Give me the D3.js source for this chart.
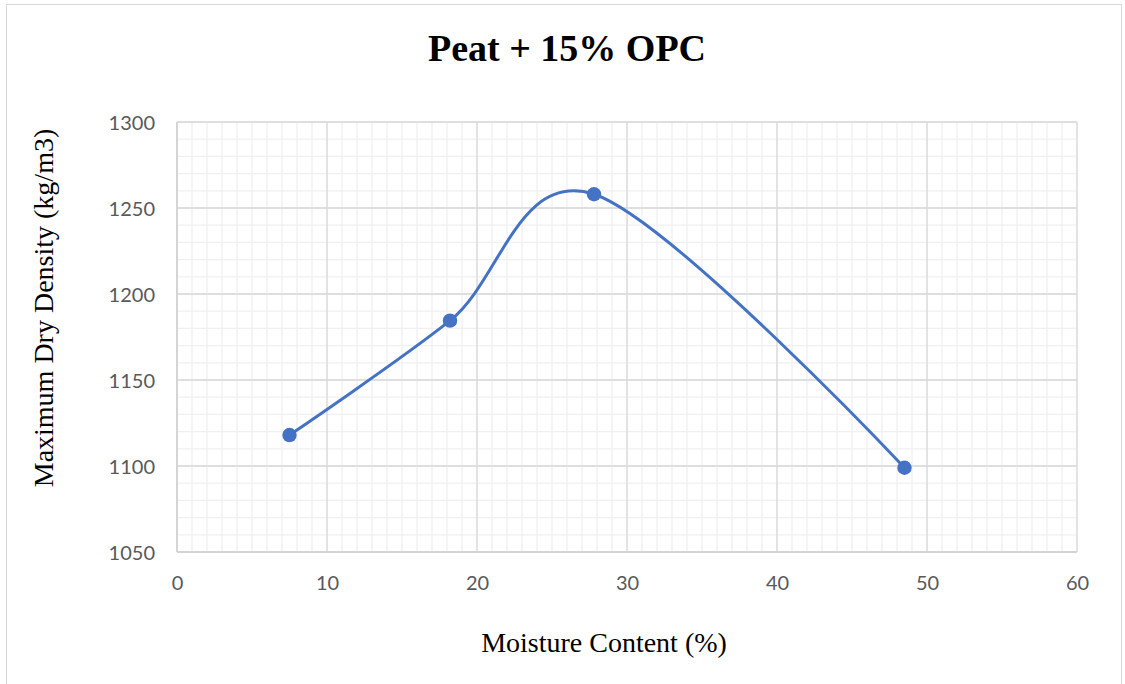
<!DOCTYPE html>
<html>
<head>
<meta charset="utf-8">
<script src="https://cdn.jsdelivr.net/npm/d3@7"></script>
<style>
  html, body { margin: 0; padding: 0; background: #fff; }
  svg { display: block; }
</style>
</head>
<body>
<svg id="chart" width="1125" height="684"></svg>
<script>
// Compaction test: peat stabilised with 15% OPC
const moisture = [7.5, 18.2, 27.8, 48.5];
const dryDensity = [1118, 1184.5, 1258, 1099];
const xTicks = [0, 10, 20, 30, 40, 50, 60];
const yTicks = [1050, 1100, 1150, 1200, 1250, 1300];

const W = 1125, H = 684;
const margin = { left: 177, right: 48, top: 122, bottom: 132 };
const svg = d3.select("#chart");

// outer chart frame
svg.append("rect")
  .attr("x", 6.5).attr("y", 4.5)
  .attr("width", 1115).attr("height", 700)
  .attr("fill", "#fff").attr("stroke", "#d9d9d9").attr("stroke-width", 1);

const x = d3.scaleLinear().domain([0, 60]).range([margin.left, W - margin.right]);
const y = d3.scaleLinear().domain([1050, 1300]).range([H - margin.bottom, margin.top]);

const grid = svg.append("g");
// minor grid
grid.selectAll("line.mx").data(d3.range(0, 61, 1)).join("line")
  .attr("x1", d => x(d)).attr("x2", d => x(d))
  .attr("y1", y(1050)).attr("y2", y(1300))
  .attr("stroke", "#f0f0f0").attr("stroke-width", 1.3);
grid.selectAll("line.my").data(d3.range(1050, 1301, 10)).join("line")
  .attr("y1", d => y(d)).attr("y2", d => y(d))
  .attr("x1", x(0)).attr("x2", x(60))
  .attr("stroke", "#f0f0f0").attr("stroke-width", 1.3);
// major grid
grid.selectAll("line.Mx").data(xTicks).join("line")
  .attr("x1", d => x(d)).attr("x2", d => x(d))
  .attr("y1", y(1050)).attr("y2", y(1300))
  .attr("stroke", "#d9d9d9").attr("stroke-width", 1.3);
grid.selectAll("line.My").data(yTicks).join("line")
  .attr("y1", d => y(d)).attr("y2", d => y(d))
  .attr("x1", x(0)).attr("x2", x(60))
  .attr("stroke", "#d9d9d9").attr("stroke-width", 1.3);

// axes (labels only)
const xAxis = svg.append("g")
  .attr("transform", `translate(0,${y(1050)})`)
  .call(d3.axisBottom(x).tickValues(xTicks).tickFormat(d3.format("d")).tickSize(0).tickPadding(24));
const yAxis = svg.append("g")
  .attr("transform", `translate(${x(0)},0)`)
  .call(d3.axisLeft(y).tickValues(yTicks).tickFormat(d3.format("d")).tickSize(0).tickPadding(22));
[xAxis, yAxis].forEach(a => {
  a.select(".domain").remove();
  a.selectAll("text")
    .attr("font-family", "Lato, 'Open Sans', sans-serif")
    .attr("font-size", 20).attr("fill", "#595959");
});
yAxis.selectAll("text").attr("dy", "0.35em");

// axis lines
svg.append("line").attr("x1", x(0)).attr("x2", x(60)).attr("y1", y(1050)).attr("y2", y(1050))
  .attr("stroke", "#d0d0d0").attr("stroke-width", 1.5);
svg.append("line").attr("x1", x(0)).attr("x2", x(0)).attr("y1", y(1050)).attr("y2", y(1300))
  .attr("stroke", "#d0d0d0").attr("stroke-width", 1.5);

// series
const pts = moisture.map((m, i) => [m, dryDensity[i]]);
const line = d3.line().x(d => x(d[0])).y(d => y(d[1])).curve(d3.curveCardinal.tension(0));
svg.append("path").datum(pts).attr("d", line)
  .attr("fill", "none").attr("stroke", "#4472C4").attr("stroke-width", 3)
  .attr("stroke-linecap", "round");
svg.selectAll("circle.pt").data(pts).join("circle")
  .attr("cx", d => x(d[0])).attr("cy", d => y(d[1])).attr("r", 7.2)
  .attr("fill", "#4472C4");

// titles
svg.append("text").attr("x", 567).attr("y", 61).attr("text-anchor", "middle")
  .attr("font-family", "'Liberation Serif', 'Times New Roman', serif")
  .attr("font-weight", "bold").attr("font-size", 38).attr("fill", "#000")
  .text("Peat + 15% OPC");
svg.append("text").attr("x", 604).attr("y", 652).attr("text-anchor", "middle")
  .attr("font-family", "'Liberation Serif', 'Times New Roman', serif")
  .attr("font-size", 28).attr("fill", "#000")
  .text("Moisture Content (%)");
svg.append("text")
  .attr("transform", "translate(53,308) rotate(-90)").attr("text-anchor", "middle")
  .attr("font-family", "'Liberation Serif', 'Times New Roman', serif")
  .attr("font-size", 28).attr("fill", "#000")
  .text("Maximum Dry Density (kg/m3)");
</script>
</body>
</html>
